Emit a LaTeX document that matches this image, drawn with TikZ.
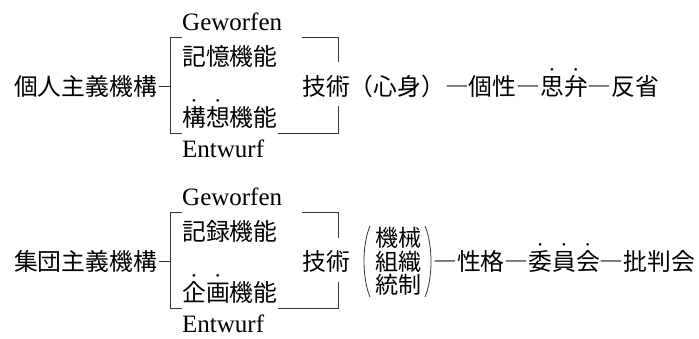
\documentclass[tikz,border=0pt]{standalone}
\usepackage{fontspec}
\setmainfont{Liberation Serif}
\newfontfamily\cjk{Noto Sans CJK JP}
\usetikzlibrary{calc}
\newcommand\bouten[1]{\makebox[0pt][l]{\makebox[1em][c]{\raisebox{22pt}{\rmfamily\fontsize{11}{11}\selectfont\textbullet}}}#1}
\begin{document}
\begin{tikzpicture}[x=1pt,y=-1pt,
  jp/.style={font=\cjk\fontsize{23.8}{28}\selectfont, inner sep=0pt, text height=20.9pt, text depth=2.9pt, anchor=west},
  stack/.style={font=\cjk\fontsize{23}{23.5}\selectfont, inner sep=0pt, align=center},
  de/.style={font=\fontsize{25}{30}\selectfont, inner sep=0pt, anchor=base west},
  br/.style={line width=0.9pt, draw=black!80},
  paren/.style={line width=0.8pt, draw=black!80},
  ]
\useasboundingbox (0,0) rectangle (699,338);

% ---------- section 1 ----------
\node[jp] (r1) at (14,86) {個人主義機構};
\node[de] (g1) at (182,30) {Geworfen};
\node[jp] (m1) at (182,56) {記憶機能};
\node[jp] (k1) at (182,117) {\bouten{構}\bouten{想}機能};
\node[de] (e1) at (182,157) {Entwurf};
\node[jp] (t1) at (302,86) {技術（心身）―個性―\bouten{思}\bouten{弁}―反省};
\coordinate (lt1) at (170,37);
\coordinate (lb1) at (170,133);
\coordinate (rt1) at (338,37);
\coordinate (rb1) at (338,133);
\draw[br] ([xshift=2pt]r1.east) -- (r1.east -| lt1);
\draw[br] (m1.west |- lt1) -- (lt1) -- (lb1) -- (k1.west |- lb1);
\draw[br] (t1.west |- rt1) -- (rt1) -- ($(rt1 |- t1.west)+(0,-24)$);
\draw[br] ($(rt1 |- t1.west)+(0,20)$) -- (rb1) -- (k1.east |- rb1);

% ---------- section 2 ----------
\node[jp] (r2) at (14,261.5) {集団主義機構};
\node[de] (g2) at (182,205.5) {Geworfen};
\node[jp] (m2) at (182,231.5) {記録機能};
\node[jp] (k2) at (182,292.5) {\bouten{企}\bouten{画}機能};
\node[de] (e2) at (182,332) {Entwurf};
\node[jp] (t2) at (302,261.5) {技術};
\node[stack] (s2) at (398.5,261.5) {機械\\組織\\統制};
\node[jp] (f2) at (433,261.5) {―性格―\bouten{委}\bouten{員}\bouten{会}―批判会};
\coordinate (lt2) at (170,212.5);
\coordinate (lb2) at (170,308);
\coordinate (rt2) at (338,212.5);
\coordinate (rb2) at (338,308);
\draw[br] ([xshift=2pt]r2.east) -- (r2.east -| lt2);
\draw[br] (m2.west |- lt2) -- (lt2) -- (lb2) -- (k2.west |- lb2);
\draw[br] (t2.west |- rt2) -- (rt2) -- ($(rt2 |- t2.west)+(0,-24)$);
\draw[br] ($(rt2 |- t2.west)+(0,20)$) -- (rb2) -- (k2.east |- rb2);
% parentheses around the stack
\draw[paren] (370,226) .. controls (362,245) and (362,278) .. (370,297);
\draw[paren] (425,226) .. controls (433,245) and (433,278) .. (425,297);
\end{tikzpicture}
\end{document}
